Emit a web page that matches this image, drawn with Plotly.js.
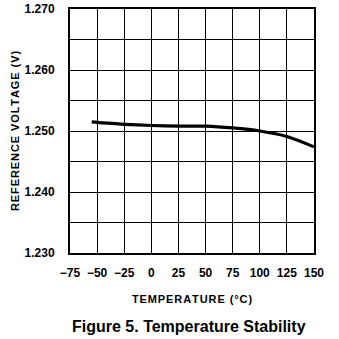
<!DOCTYPE html>
<html><head><meta charset="utf-8">
<script src="https://cdn.plot.ly/plotly-3.0.1.min.js"></script>
<style>html,body{margin:0;padding:0;background:#fff}#c{width:339px;height:339px}</style>
</head><body><div id="c"></div>
<script>
const temperature = [-55, -50, -25, 0, 25, 50, 75, 100, 125, 150];
const voltage = [1.2515, 1.2514, 1.2511, 1.2509, 1.2508, 1.2508, 1.2505, 1.2500, 1.2491, 1.2474];
const xTickVals = [-75, -50, -25, 0, 25, 50, 75, 100, 125, 150];
const yTickVals = [1.230, 1.240, 1.250, 1.260, 1.270];
const yTickText = ['1.230', '1.240', '1.250', '1.260', '1.270'];
const spaced = s => s.split('').join('\u200A');
const font = {family: '"Liberation Sans Narrow", "Arial Narrow", "Liberation Sans", Arial, sans-serif', color: '#000', size: 12, weight: 'bold'};
const tfont = {family: '"Liberation Sans", Arial, sans-serif', color: '#000', size: 11, weight: 'bold'};
Plotly.newPlot('c', [{
  x: temperature, y: voltage, type: 'scatter', mode: 'lines',
  line: {color: '#000', width: 3.2, shape: 'spline', smoothing: 0.8}, hoverinfo: 'none'
}], {
  width: 339, height: 339,
  margin: {l: 70, r: 25, t: 9, b: 86},
  paper_bgcolor: '#fff', plot_bgcolor: '#fff', showlegend: false,
  font: font,
  xaxis: {range: [-75, 150], tickvals: xTickVals, ticks: '', showgrid: true, gridcolor: '#000', gridwidth: 1,
    zeroline: false, showline: true, mirror: true, linecolor: '#000', linewidth: 2, ticklabelstandoff: 8,
    tickfont: font, title: {text: spaced('TEMPERATURE (°C)'), font: tfont, standoff: 16}},
  yaxis: {range: [1.230, 1.270], tickvals: yTickVals, ticktext: yTickText, ticks: '', showgrid: true, gridcolor: '#000', gridwidth: 1,
    minor: {dtick: 0.005, showgrid: true, gridcolor: '#000', gridwidth: 1},
    zeroline: false, showline: true, mirror: true, linecolor: '#000', linewidth: 2, ticklabelstandoff: 11,
    tickfont: font, title: {text: spaced('REFERENCE VOLTAGE (V)'), font: tfont, standoff: 3}},
  annotations: [{text: 'Figure 5. Temperature Stability', xref: 'paper', yref: 'paper', x: 0.486, y: -0.303,
    xanchor: 'center', yanchor: 'middle', showarrow: false,
    font: {family: '"Liberation Sans", Arial, sans-serif', size: 16, weight: 'bold', color: '#000'}}]
}, {staticPlot: true});
</script></body></html>
